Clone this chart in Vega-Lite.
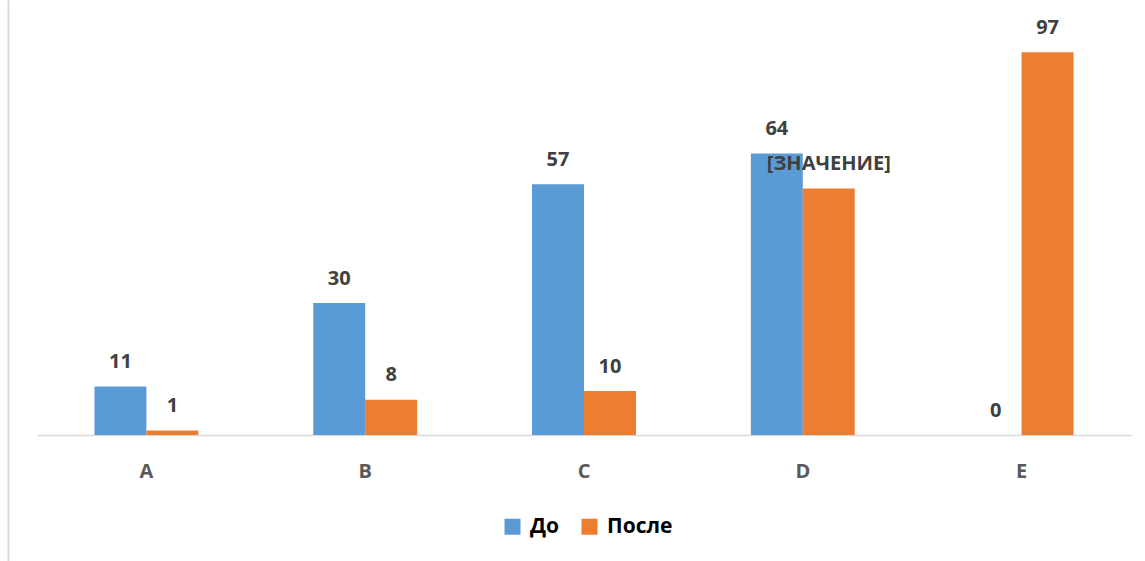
{
  "$schema": "https://vega.github.io/schema/vega-lite/v6.json",
  "width": 1094,
  "height": 561,
  "autosize": {"type": "none"},
  "padding": {"left": 37, "top": 0, "right": 14, "bottom": 0},
  "background": "white",
  "config": {
    "view": {"stroke": null},
    "font": "Open Sans"
  },
  "data": {
    "values": [
      {"cat": "A", "series": "До", "value": 11, "label": "11"},
      {"cat": "A", "series": "После", "value": 1, "label": "1"},
      {"cat": "B", "series": "До", "value": 30, "label": "30"},
      {"cat": "B", "series": "После", "value": 8, "label": "8"},
      {"cat": "C", "series": "До", "value": 57, "label": "57"},
      {"cat": "C", "series": "После", "value": 10, "label": "10"},
      {"cat": "D", "series": "До", "value": 64, "label": "64"},
      {"cat": "D", "series": "После", "value": 56, "label": "[ЗНАЧЕНИЕ]"},
      {"cat": "E", "series": "До", "value": 0, "label": "0"},
      {"cat": "E", "series": "После", "value": 87, "label": "97"}
    ]
  },
  "encoding": {
    "x": {
      "field": "cat",
      "type": "nominal",
      "sort": null,
      "scale": {"paddingInner": 0.525, "paddingOuter": 0.2625},
      "axis": {
        "orient": "bottom",
        "offset": -126,
        "title": null,
        "labelAngle": 0,
        "ticks": false,
        "domainColor": "#d9d9d9",
        "domainWidth": 1.5,
        "labelFont": "Open Sans",
        "labelFontWeight": "bold",
        "labelFontSize": 20,
        "labelColor": "#595959",
        "labelPadding": 26
      }
    },
    "xOffset": {
      "field": "series",
      "type": "nominal",
      "sort": ["До", "После"],
      "scale": {"paddingInner": 0, "paddingOuter": 0}
    },
    "y": {
      "field": "value",
      "type": "quantitative",
      "scale": {"domain": [-28.636, 98.864], "nice": false, "zero": false},
      "axis": {
        "orient": "left",
        "offset": 29,
        "title": null,
        "labels": false,
        "ticks": false,
        "grid": false,
        "domain": true,
        "domainColor": "#d9d9d9",
        "domainWidth": 2
      }
    }
  },
  "layer": [
    {
      "mark": {"type": "bar"},
      "encoding": {
        "y2": {"datum": 0},
        "color": {
          "field": "series",
          "type": "nominal",
          "sort": ["До", "После"],
          "scale": {"domain": ["До", "После"], "range": ["#5b9bd5", "#ed7d31"]},
          "legend": {
            "title": null,
            "orient": "none",
            "direction": "horizontal",
            "legendX": 465,
            "legendY": 516,
            "symbolType": "square",
            "symbolSize": 256,
            "symbolStrokeWidth": 0,
            "symbolOpacity": 1,
            "labelFont": "Open Sans",
            "labelFontWeight": "bold",
            "labelFontSize": 21,
            "labelColor": "#000000",
            "labelOffset": 7,
            "columnPadding": 19
          }
        }
      }
    },
    {
      "mark": {
        "type": "text",
        "dy": -18.5,
        "baseline": "alphabetic",
        "align": "center",
        "font": "Open Sans",
        "fontWeight": "bold",
        "fontSize": 20,
        "color": "#404040"
      },
      "encoding": {
        "text": {"field": "label", "type": "nominal"}
      }
    }
  ]
}
